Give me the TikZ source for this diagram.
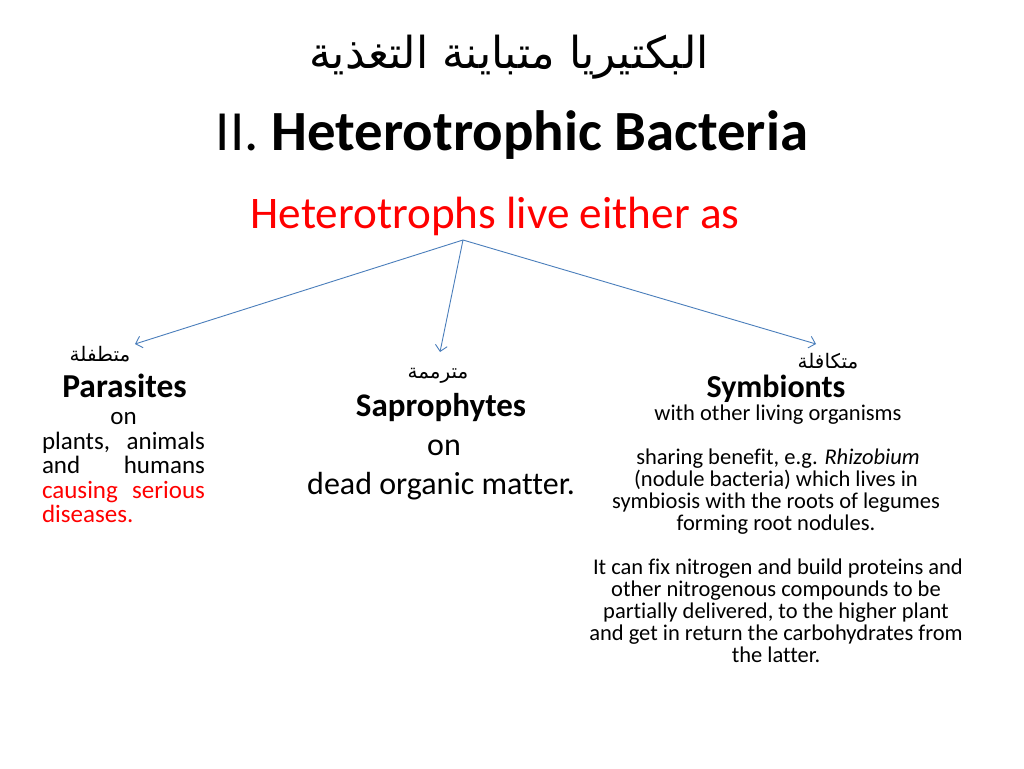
\documentclass[tikz,border=0pt]{standalone}
\usepackage{fontspec}
\setmainfont{Carlito}[Ligatures={NoCommon}]
\newfontfamily\arabicfont[Script=Arabic]{DejaVu Sans}
\TeXXeTstate=1
\usetikzlibrary{arrows.meta}
\definecolor{arrowblue}{HTML}{4A7EBB}
\definecolor{redtext}{HTML}{FF0000}
\tikzset{
  conn/.style={draw=arrowblue, line width=0.9pt, -{Straight Barb[length=6pt,width=12pt]}},
  txt/.style={anchor=base, inner sep=0pt, outer sep=0pt},
}
\newcommand{\fs}[2]{\fontsize{#1}{#2}\selectfont}
\begin{document}
\begin{tikzpicture}[x=1pt,y=-1pt]
\useasboundingbox[fill=white] (0,0) rectangle (1024,768);
% titles
\node[txt] (arTitle) at (509,68) {\fs{44}{50}\arabicfont\beginR البكتيريا متباينة التغذية\endR};
\node[txt] (title) at (512,150) {\fs{56.8}{64}II. \textbf{Heterotrophic Bacteria}};
\node[txt, text=redtext] (sub) at (495,228) {\fs{45.2}{52}Heterotrophs live either as};
\coordinate (src) at (463,240);
\coordinate (endL) at (135,344);
\coordinate (endM) at (440,352);
\coordinate (endR) at (816,344);
\draw[conn] (src) -- (endL);
\draw[conn] (src) -- (endM);
\draw[conn] (src) -- (endR);
% Parasites
\node[txt] (arPar) at (100,361) {\fs{20}{24}\arabicfont\beginR متطفلة\endR};
\node[txt] (par) at (124.5,397) {\fs{33.5}{38}\textbf{Parasites}};
\node[txt] (par1) at (123.5,424) {\fs{25}{24.5}on};
\node[txt] (par2) at (123.5,449) {\fs{25}{24.5}\makebox[163pt][s]{plants,\hfill animals}};
\node[txt] (par3) at (123.5,473.5) {\fs{25}{24.5}\makebox[163pt][s]{and\hfill humans}};
\node[txt, text=redtext] (par4) at (123.5,498) {\fs{25}{24.5}\makebox[163pt][s]{causing\hfill serious}};
\node[txt, text=redtext] (par5) at (123.5,522.5) {\fs{25}{24.5}\makebox[163pt][l]{diseases.}};
% Saprophytes
\node[txt] (arSap) at (438,378) {\fs{20}{24}\arabicfont\beginR مترممة\endR};
\node[txt] (sap) at (441,416) {\fs{33}{38}\textbf{Saprophytes}};
\node[txt] (sap1) at (444,455) {\fs{32}{39}on};
\node[txt] (sap2) at (441,494) {\fs{32}{39}dead organic matter.};
% Symbionts
\node[txt] (arSym) at (828,368) {\fs{20}{24}\arabicfont\beginR متكافلة\endR};
\node[txt] (sym) at (776,397) {\fs{32}{38}\textbf{Symbionts}};
\node[txt] (sym1) at (778,420) {\fs{22.5}{22}with other living organisms};
\node[txt] (sym2) at (778,464) {\fs{22.5}{22}sharing benefit, e.g. \textit{Rhizobium}};
\node[txt] (sym3) at (776,486) {\fs{22.5}{22}(nodule bacteria) which lives in};
\node[txt] (sym4) at (776,508) {\fs{22.5}{22}symbiosis with the roots of legumes};
\node[txt] (sym5) at (776,530) {\fs{22.5}{22}forming root nodules.};
\node[txt] (sym6) at (778,574) {\fs{22.5}{22}It can fix nitrogen and build proteins and};
\node[txt] (sym7) at (776,596) {\fs{22.5}{22}other nitrogenous compounds to be};
\node[txt] (sym8) at (776,618) {\fs{22.5}{22}partially delivered, to the higher plant};
\node[txt] (sym9) at (776,640) {\fs{22.5}{22}and get in return the carbohydrates from};
\node[txt] (sym10) at (776,662) {\fs{22.5}{22}the latter.};
\end{tikzpicture}
\end{document}
